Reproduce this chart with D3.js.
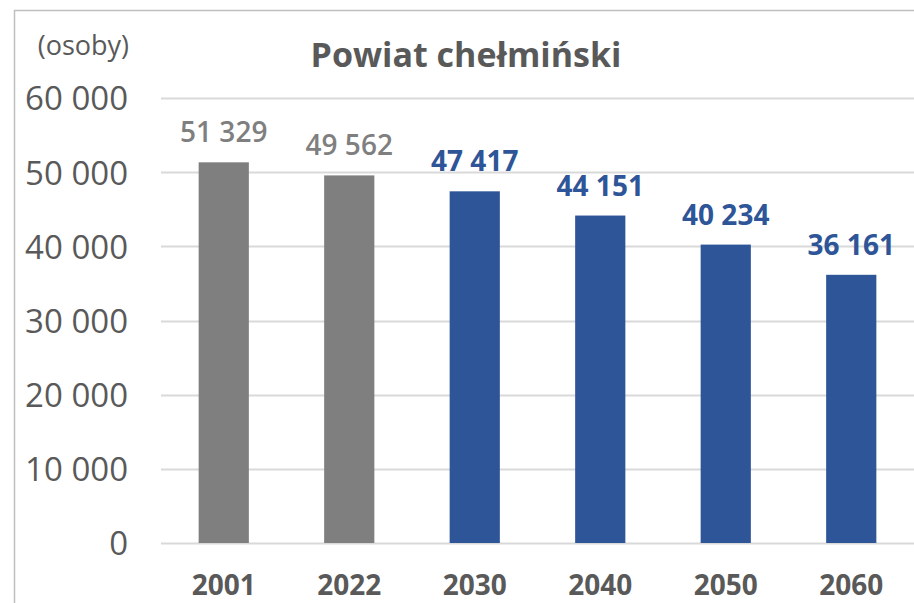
<!DOCTYPE html>
<html>
<head>
<meta charset="utf-8">
<script src="https://cdn.jsdelivr.net/npm/d3@7"></script>
<style>
  html, body { margin: 0; padding: 0; background: #fff; }
  svg { display: block; font-family: "Open Sans", "Noto Sans", sans-serif; }
</style>
</head>
<body>
<svg id="chart" width="914" height="603"></svg>
<script>
const categories = ["2001", "2022", "2030", "2040", "2050", "2060"];
const values = [51329, 49562, 47417, 44151, 40234, 36161];
const valueLabels = ["51 329", "49 562", "47 417", "44 151", "40 234", "36 161"];
const isProjection = [false, false, true, true, true, true];
const yTicks = [0, 10000, 20000, 30000, 40000, 50000, 60000];
const yTickLabels = ["0", "10 000", "20 000", "30 000", "40 000", "50 000", "60 000"];
const title = "Powiat chełmiński";
const unitLabel = "(osoby)";

const colors = { hist: "#7f7f7f", proj: "#2e5597", axisText: "#595959", grid: "#d9d9d9", border: "#bfbfbf" };

const svg = d3.select("#chart");
const plot = { left: 161, right: 914, top: 98, bottom: 543 };

const x = d3.scaleBand().domain(categories).range([plot.left, plot.right]).paddingInner(0.6).paddingOuter(0.3);
const y = d3.scaleLinear().domain([0, 60000]).range([plot.bottom, plot.top]);

// outer border (chart area frame)
svg.append("rect")
  .attr("x", 14.5).attr("y", 10.5)
  .attr("width", 940).attr("height", 640)
  .attr("fill", "none").attr("stroke", colors.border).attr("stroke-width", 1.5);

// gridlines
svg.append("g").selectAll("line").data(yTicks).join("line")
  .attr("x1", plot.left).attr("x2", plot.right)
  .attr("y1", d => Math.round(y(d)) + 0.5).attr("y2", d => Math.round(y(d)) + 0.5)
  .attr("stroke", colors.grid).attr("stroke-width", 2);

// y axis labels
const yAxis = d3.axisLeft(y).tickValues(yTicks).tickSize(0).tickPadding(0)
  .tickFormat((d, i) => yTickLabels[i]);
const yg = svg.append("g").attr("transform", `translate(128,0)`).call(yAxis);
yg.select(".domain").remove();
yg.selectAll("text").attr("fill", colors.axisText).attr("font-size", 33)
  .attr("font-family", "'Open Sans', sans-serif").attr("dy", "0.36em");

// bars
svg.append("g").selectAll("rect").data(values).join("rect")
  .attr("x", (d, i) => x(categories[i]))
  .attr("width", x.bandwidth())
  .attr("y", d => y(d))
  .attr("height", d => y(0) - y(d))
  .attr("fill", (d, i) => isProjection[i] ? colors.proj : colors.hist);

// data labels
svg.append("g").selectAll("text").data(values).join("text")
  .attr("x", (d, i) => x(categories[i]) + x.bandwidth() / 2)
  .attr("y", d => y(d) - 20)
  .attr("text-anchor", "middle")
  .attr("font-size", 28)
  .attr("font-weight", (d, i) => isProjection[i] ? 700 : 600)
  .attr("fill", (d, i) => isProjection[i] ? colors.proj : colors.hist)
  .text((d, i) => valueLabels[i]);

// x axis labels
const xAxis = d3.axisBottom(x).tickSize(0).tickPadding(0);
const xg = svg.append("g").attr("transform", `translate(0,${plot.bottom})`).call(xAxis);
xg.select(".domain").remove();
xg.selectAll("text").attr("fill", colors.axisText).attr("font-size", 28)
  .attr("font-weight", 700).attr("font-family", "'Open Sans', sans-serif")
  .attr("dy", null).attr("y", 52);

// title
svg.append("text").attr("x", 466).attr("y", 67).attr("text-anchor", "middle")
  .attr("font-size", 34).attr("font-weight", 700).attr("fill", colors.axisText)
  .text(title);

// unit label
svg.append("text").attr("x", 129).attr("y", 55).attr("text-anchor", "end")
  .attr("font-size", 27).attr("fill", colors.axisText)
  .text(unitLabel);
</script>
</body>
</html>
